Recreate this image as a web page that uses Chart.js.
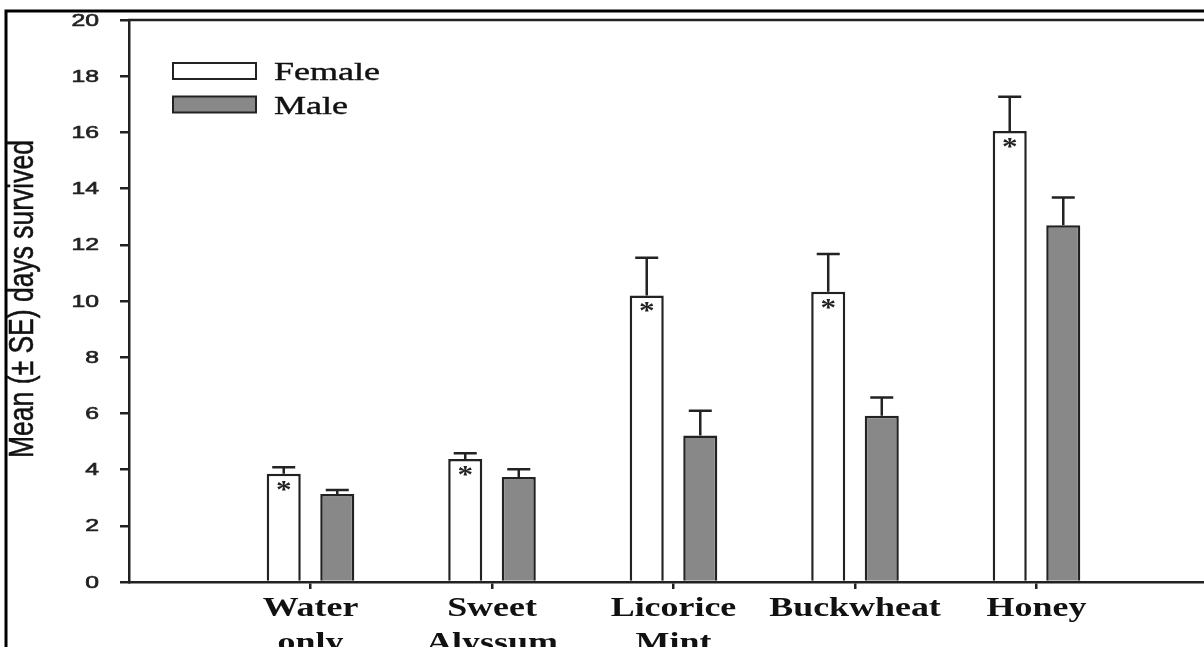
<!DOCTYPE html>
<html>
<head>
<meta charset="utf-8">
<script src="https://cdn.jsdelivr.net/npm/chart.js@4"></script>
<style>
  html, body { margin: 0; padding: 0; background: #fff; overflow: hidden; }
  #wrap { width: 1204px; height: 647px; overflow: hidden; }
  canvas { display: block; }
</style>
</head>
<body>
<div id="wrap"><canvas id="survival" width="1218" height="647"></canvas></div>
<script>
// data
const categories = ['Water only', 'Sweet Alyssum', 'Licorice Mint', 'Buckwheat', 'Honey'];
const femaleMean = [3.85, 4.38, 10.2, 10.33, 16.05];
const femaleSE = [0.23, 0.2, 1.34, 1.34, 1.22];
const maleMean = [3.13, 3.74, 5.21, 5.92, 12.7];
const maleSE = [0.14, 0.27, 0.88, 0.65, 0.98];
const femaleStar = [true, true, true, true, true];
const yTicks = [0, 2, 4, 6, 8, 10, 12, 14, 16, 18, 20];

// empty slot on each side so the groups sit where they do in the figure
const xLabels = [''].concat(categories, ['']);
const pad = arr => [null].concat(arr, [null]);

const INK = '#222';

function stretchText(ctx, text, x, y, font, sx, align, baseline, thick) {
    ctx.save();
    ctx.translate(x, y);
    ctx.scale(sx, 1);
    ctx.font = font;
    ctx.textAlign = align;
    ctx.textBaseline = baseline || 'alphabetic';
    ctx.fillText(text, 0, 0);
    if (thick) {
        ctx.lineWidth = thick;
        ctx.strokeStyle = ctx.fillStyle;
        ctx.strokeText(text, 0, 0);
    }
    ctx.restore();
}

const extras = {
    id: 'extras',
    afterDatasetsDraw(chart) {
        const ctx = chart.ctx;
        const y = chart.scales.y;
        const sets = [[femaleMean, femaleSE], [maleMean, maleSE]];

        // error bars (upper half only)
        ctx.save();
        ctx.strokeStyle = INK;
        ctx.lineWidth = 2.5;
        sets.forEach((s, d) => {
            const meta = chart.getDatasetMeta(d);
            s[0].forEach((v, i) => {
                const bar = meta.data[i + 1];
                const top = y.getPixelForValue(v + s[1][i]);
                ctx.beginPath();
                ctx.moveTo(bar.x, bar.y);
                ctx.lineTo(bar.x, top);
                ctx.moveTo(bar.x - 11.5, top);
                ctx.lineTo(bar.x + 11.5, top);
                ctx.stroke();
            });
        });
        ctx.restore();

        // asterisks inside female bars
        ctx.save();
        ctx.fillStyle = INK;
        const fMeta = chart.getDatasetMeta(0);
        femaleStar.forEach((on, i) => {
            if (!on) return;
            const bar = fMeta.data[i + 1];
            stretchText(ctx, '*', bar.x, bar.y + 24, 'bold 26px "Liberation Serif"', 1.2, 'center');
        });
        ctx.restore();
    },
    afterDraw(chart) {
        const ctx = chart.ctx;
        const area = chart.chartArea;
        const y = chart.scales.y;
        const x = chart.scales.x;

        ctx.save();
        // top edge of the plot frame
        ctx.strokeStyle = INK;
        ctx.lineWidth = 2.5;
        ctx.beginPath();
        ctx.moveTo(area.left - 1, area.top);
        ctx.lineTo(area.right, area.top);
        ctx.stroke();

        // outer figure border
        ctx.strokeStyle = '#000';
        ctx.lineWidth = 3;
        ctx.beginPath();
        ctx.moveTo(6, 647);
        ctx.lineTo(6, 11);
        ctx.lineTo(1218, 11);
        ctx.stroke();

        // y tick labels
        ctx.fillStyle = INK;
        yTicks.forEach(t => {
            stretchText(ctx, String(t), 99, y.getPixelForValue(t) + 1, '16.5px "Liberation Sans"', 1.5, 'right', 'middle', 0.6);
        });

        // category labels
        ctx.fillStyle = '#111';
        categories.forEach((c, i) => {
            const cx = x.getPixelForTick(i + 1);
            const lines = c.split(' ');
            lines.forEach((ln, k) => {
                stretchText(ctx, ln, cx, 616 + k * 35, 'bold 27px "Liberation Serif"', 1.33, 'center');
            });
        });

        // y axis title
        ctx.save();
        ctx.translate(33, 299);
        ctx.rotate(-Math.PI / 2);
        ctx.scale(1, 1.35);
        ctx.font = '26.5px "Liberation Sans"';
        ctx.textAlign = 'center';
        ctx.textBaseline = 'alphabetic';
        ctx.fillStyle = '#111';
        ctx.fillText('Mean (\u00b1 SE) days survived', 0, 0);
        ctx.lineWidth = 0.4;
        ctx.strokeStyle = '#111';
        ctx.strokeText('Mean (\u00b1 SE) days survived', 0, 0);
        ctx.restore();

        // legend
        const ds = chart.data.datasets;
        ctx.lineWidth = 2;
        ctx.strokeStyle = INK;
        ds.forEach((d, i) => {
            const by = 63 + i * 33.5;
            ctx.fillStyle = d.backgroundColor;
            ctx.fillRect(173, by, 83, 16);
            ctx.strokeRect(173, by, 83, 16);
            ctx.fillStyle = '#111';
            stretchText(ctx, d.label, 274, by + 17, '26px "Liberation Serif"', 1.385, 'left', 'alphabetic', 0.4);
        });
        ctx.restore();
    }
};

new Chart(document.getElementById('survival'), {
    type: 'bar',
    data: {
        labels: xLabels,
        datasets: [
            {
                label: 'Female',
                data: pad(femaleMean),
                backgroundColor: '#ffffff',
                borderColor: INK,
                borderWidth: 2.5
            },
            {
                label: 'Male',
                data: pad(maleMean),
                backgroundColor: '#888888',
                borderColor: INK,
                borderWidth: 2.5
            }
        ]
    },
    options: {
        responsive: false,
        animation: false,
        devicePixelRatio: 1,
        categoryPercentage: 0.59,
        barPercentage: 0.636,
        layout: { padding: { top: 20, left: 0, right: 0, bottom: 0 } },
        plugins: {
            legend: { display: false },
            tooltip: { enabled: false }
        },
        scales: {
            x: {
                type: 'category',
                offset: false,
                grid: {
                    offset: false,
                    drawOnChartArea: false,
                    drawTicks: true,
                    tickLength: 7,
                    lineWidth: 2.5,
                    color: c => (c.index === 0 || c.index === xLabels.length - 1) ? 'rgba(0,0,0,0)' : INK
                },
                border: { color: INK, width: 2.5 },
                ticks: { display: false, autoSkip: false },
                afterFit: s => { s.height = 65; }
            },
            y: {
                min: 0,
                max: 20,
                grid: {
                    drawOnChartArea: false,
                    drawTicks: true,
                    tickLength: 9,
                    lineWidth: 2.5,
                    color: INK
                },
                border: { color: INK, width: 2.5 },
                ticks: { display: false, stepSize: 2 },
                afterFit: s => { s.width = 129; }
            }
        }
    },
    plugins: [extras]
});
</script>
</body>
</html>
